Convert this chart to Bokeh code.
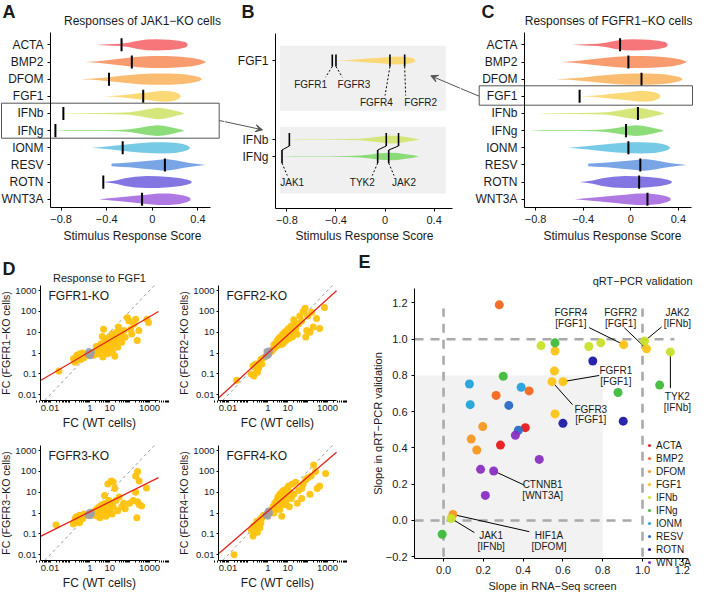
import math
from bokeh.plotting import figure
from bokeh.layouts import row, column
from bokeh.models import (Range1d, FixedTicker, Label, Arrow, VeeHead, Legend, LegendItem,
                          PrintfTickFormatter, CustomJSTickFormatter)
from bokeh.embed import file_html
from bokeh.resources import INLINE

FONT = "Liberation Sans"
TXT = "#1a1a1a"

# ---------------- data: panels A-C ----------------
stimuli = ["ACTA", "BMP2", "DFOM", "FGF1", "IFNb", "IFNg", "IONM", "RESV", "ROTN", "WNT3A"]
violin_colors = ["#F5676A", "#F7915F", "#F9B560", "#FBD568", "#D0E46C",
                 "#80D86A", "#68C4E2", "#6A9BE3", "#7767DF", "#A56ADF"]

# violin profiles: score knots and half widths (in row units)
acta_score = [-0.49, -0.39, -0.28, -0.21, -0.14, -0.05, 0.03, 0.15, 0.23, 0.29, 0.305, 0.31]
acta_width = [0.0, 0.04, 0.06, 0.12, 0.22, 0.31, 0.33, 0.30, 0.24, 0.16, 0.08, 0.0]
bmp2_score = [-0.59, -0.48, -0.38, -0.25, -0.12, 0.0, 0.12, 0.25, 0.35, 0.42, 0.46, 0.47]
bmp2_width = [0.0, 0.05, 0.12, 0.22, 0.31, 0.35, 0.35, 0.30, 0.24, 0.14, 0.05, 0.0]
dfom_score = [-0.63, -0.52, -0.40, -0.27, -0.12, 0.0, 0.15, 0.28, 0.36, 0.41, 0.43, 0.435]
dfom_width = [0.0, 0.04, 0.10, 0.20, 0.29, 0.33, 0.33, 0.28, 0.20, 0.12, 0.04, 0.0]
fgf1_score = [-0.43, -0.33, -0.24, -0.14, -0.04, 0.04, 0.09, 0.15, 0.20, 0.23, 0.245, 0.25]
fgf1_width = [0.0, 0.03, 0.08, 0.16, 0.22, 0.29, 0.32, 0.30, 0.24, 0.16, 0.07, 0.0]
ifnb_score = [-0.78, -0.70, -0.45, -0.30, -0.20, -0.12, -0.04, 0.04, 0.10, 0.17, 0.23, 0.275, 0.28]
ifnb_width = [0.0, 0.02, 0.025, 0.04, 0.07, 0.15, 0.25, 0.33, 0.30, 0.20, 0.11, 0.03, 0.0]
ifng_score = [-0.85, -0.75, -0.45, -0.30, -0.20, -0.12, -0.04, 0.04, 0.10, 0.17, 0.23, 0.27, 0.275]
ifng_width = [0.0, 0.02, 0.025, 0.04, 0.08, 0.16, 0.26, 0.31, 0.28, 0.19, 0.10, 0.03, 0.0]
ionm_score = [-0.53, -0.45, -0.36, -0.25, -0.12, 0.0, 0.10, 0.20, 0.27, 0.31, 0.325, 0.33]
ionm_width = [0.0, 0.04, 0.10, 0.18, 0.27, 0.32, 0.33, 0.30, 0.22, 0.13, 0.05, 0.0]
resv_score = [-0.36, -0.355, -0.30, -0.20, -0.10, 0.0, 0.08, 0.12, 0.20, 0.28, 0.34, 0.40, 0.47]
resv_width = [0.0, 0.08, 0.10, 0.14, 0.20, 0.26, 0.32, 0.34, 0.27, 0.17, 0.10, 0.05, 0.0]
rotn_score = [-0.43, -0.38, -0.32, -0.24, -0.15, -0.05, 0.05, 0.15, 0.25, 0.31, 0.34, 0.345]
rotn_width = [0.0, 0.04, 0.10, 0.22, 0.31, 0.35, 0.34, 0.30, 0.22, 0.14, 0.06, 0.0]
wnt3a_score = [-0.47, -0.38, -0.28, -0.15, -0.05, 0.05, 0.15, 0.24, 0.30, 0.33, 0.335]
wnt3a_width = [0.0, 0.06, 0.12, 0.20, 0.27, 0.33, 0.33, 0.27, 0.18, 0.09, 0.0]

violin_profiles = {
    "ACTA": (acta_score, acta_width), "BMP2": (bmp2_score, bmp2_width),
    "DFOM": (dfom_score, dfom_width), "FGF1": (fgf1_score, fgf1_width),
    "IFNb": (ifnb_score, ifnb_width), "IFNg": (ifng_score, ifng_width),
    "IONM": (ionm_score, ionm_width), "RESV": (resv_score, resv_width),
    "ROTN": (rotn_score, rotn_width), "WNT3A": (wnt3a_score, wnt3a_width),
}

jak1_ko_scores = [-0.27, -0.18, -0.38, -0.08, -0.78, -0.85, -0.26, 0.11, -0.43, -0.09]
fgfr1_ko_scores = [-0.09, -0.02, 0.09, -0.43, 0.06, -0.04, -0.02, 0.08, 0.07, 0.14]

# panel B
b_fgf1_kos = ["FGFR1", "FGFR3", "FGFR4", "FGFR2"]
b_fgf1_scores = [-0.43, -0.40, 0.04, 0.16]
b_ifn_kos = ["JAK1", "TYK2", "JAK2"]
b_ifnb_scores = [-0.78, 0.01, 0.11]
b_ifng_scores = [-0.84, -0.06, 0.03]

# ---------------- data: panel D ----------------
d_names = ["FGFR1-KO", "FGFR2-KO", "FGFR3-KO", "FGFR4-KO"]
d_ylabels = ["FC (FGFR1\u2212KO cells)", "FC (FGFR2\u2212KO cells)",
             "FC (FGFR3\u2212KO cells)", "FC (FGFR4\u2212KO cells)"]
d_slopes = [0.557, 0.865, 0.475, 0.82]
d_intercepts = [0.07, 0.0, 0.064, 0.09]

d1_wt = [0.028, 0.15, 0.18, 0.22, 0.27, 0.32, 0.39, 0.44, 0.5, 0.22, 0.3, 0.35, 0.42, 1.6, 2.0, 2.1,
         2.6, 3.1, 3.7, 4.5, 4.9, 5.5, 6.1, 6.6, 8, 8.9, 9.6, 11.7, 13, 14, 17, 18, 20, 21, 25, 27,
         31, 36, 40, 52, 59, 77, 93, 112, 126, 162, 200, 240, 290, 740, 890, 9.5, 8, 4.2, 2.4,
         3.3, 5, 6, 7, 1.8, 12, 15, 2.8]
d1_ko = [0.14, 0.54, 0.37, 0.78, 0.54, 0.93, 0.65, 1.0, 0.6, 0.45, 0.7, 0.5, 0.8, 0.78, 1.34, 2.1,
         0.93, 1.6, 2.8, 0.65, 14, 1.34, 4, 2.3, 0.93, 5.5, 1.6, 3.3, 8.2, 1.1, 5.5, 0.7, 2.7, 9.8,
         1.9, 18, 5, 8.7, 3.3, 12, 5.7, 50, 35, 14, 8.2, 24, 42, 4, 12, 42, 29, 2.5, 2.2, 6.2, 1.8,
         2.2, 1.8, 1.2, 3, 1.1, 2, 4, 1.3]
d2_wt = [0.027, 0.15, 0.18, 0.2, 0.25, 0.28, 0.3, 0.35, 0.4, 0.45, 0.5, 0.3, 0.6, 1.5, 1.8, 2, 2.2,
         2.5, 2.8, 3, 3.3, 3.5, 4, 4.2, 4.5, 5, 5.5, 6, 6.5, 7, 7.5, 8, 9, 10, 11, 12, 13, 15, 17,
         20, 22, 25, 30, 40, 50, 60, 75, 90, 130, 160, 190, 280, 400, 700, 80, 100, 20, 35]
d2_ko = [0.05, 0.1, 0.25, 0.08, 0.3, 0.15, 0.12, 0.2, 0.35, 0.5, 0.3, 0.22, 0.6, 1.2, 1.5, 2.5, 1.8,
         3, 2.2, 4, 2.8, 5, 3.5, 6, 2.5, 4.5, 8, 3, 6, 10, 5, 4, 12, 7, 15, 5, 9, 20, 6, 10, 28, 15,
         8, 60, 35, 100, 140, 12, 10, 90, 18, 45, 15, 155, 6, 60, 40, 25]
d3_wt = [0.02, 0.15, 0.18, 0.22, 0.25, 0.3, 0.35, 0.4, 0.45, 0.5, 0.3, 0.2, 1.5, 1.8, 2, 2.3, 2.5,
         2.8, 3, 3.2, 3.5, 4, 4.2, 4.5, 5, 5.5, 5.8, 6, 6.5, 7, 7.5, 8, 8.5, 9, 10, 11, 12, 13, 15,
         15, 18, 20, 25, 30, 40, 50, 100, 150, 200, 250, 300, 200, 250, 300, 230, 700, 400, 60]
d3_ko = [0.27, 0.3, 0.5, 0.4, 0.6, 0.8, 0.5, 0.7, 0.55, 0.9, 0.35, 0.65, 0.8, 1.3, 1, 1.6, 0.7,
         1.2, 2, 0.6, 1.5, 1, 2.5, 0.8, 1.3, 7, 1.8, 3, 0.7, 1.5, 2.2, 25, 1, 4, 1.4, 3, 35, 0.9,
         2, 30, 15, 4, 1.3, 6, 2, 3, 3, 4, 60, 100, 35, 10, 3.5, 2.6, 0.6, 16, 2.2, 1.6]
d4_wt = [0.02, 0.15, 0.18, 0.2, 0.25, 0.28, 0.3, 0.35, 0.4, 0.45, 0.5, 0.4, 0.6, 1.5, 1.8, 2, 2.2,
         2.5, 2.8, 3, 3.2, 3.5, 4, 4, 4.5, 5, 5, 5.5, 6, 6, 6.5, 7, 7.5, 8, 9, 10, 11, 12, 13, 15,
         17, 20, 25, 30, 35, 50, 60, 80, 100, 150, 200, 250, 300, 400, 130, 800, 50]
d4_ko = [0.01, 0.15, 0.08, 0.25, 0.2, 0.4, 0.12, 0.3, 0.5, 0.35, 0.6, 0.2, 0.8, 1.3, 2, 1, 3, 1.8,
         4, 2.5, 6, 3, 8, 1.5, 5, 10, 0.7, 3.5, 12, 6, 2.5, 8, 4, 3, 15, 6, 20, 2, 10, 5, 25, 8, 30,
         3, 12, 15, 25, 40, 50, 60, 200, 100, 15, 20, 8, 80, 5]
d_gray_wt = [[0.8, 1.0, 1.1, 0.9, 1.2, 1.0], [0.8, 1.0, 0.9, 1.1, 1.2, 1.0],
             [0.8, 1.0, 0.9, 1.1, 1.2, 1.0], [0.8, 1.0, 0.9, 1.1, 1.2, 1.0]]
d_gray_ko = [[0.9, 1.0, 0.8, 1.2, 1.1, 0.75], [0.7, 1.0, 1.2, 0.9, 1.3, 0.8],
             [0.8, 0.9, 1.0, 1.1, 0.95, 0.75], [0.8, 1.1, 0.9, 1.3, 1.0, 0.7]]

# ---------------- data: panel E ----------------
e_stimulus = (["ACTA"] * 2 + ["BMP2"] * 3 + ["DFOM"] * 4 + ["FGF1"] * 7 + ["IFNb"] * 6 +
              ["IFNg"] * 5 + ["IONM"] * 3 + ["RESV"] * 2 + ["ROTN"] * 3 + ["WNT3A"] * 5)
e_rna = [0.411, 0.286, 0.28, 0.43, 0.264, 0.197, 0.139, 0.167, 0.047,
         0.56, 0.905, 1.02, 0.557, 0.545, 0.60, 0.56,
         0.49, 0.73, 0.79, 1.01, 1.14, 0.038,
         0.56, 0.30, 1.086, 0.877, -0.007,
         0.13, 0.39, 0.134, 0.328, 0.376, 0.75, 0.60, 0.903,
         0.361, 0.481, 0.186, 0.252, 0.21]
e_qpcr = [0.512, 0.416, 1.19, 0.715, 0.69, 0.518, 0.449, 0.389, 0.033,
          0.935, 0.97, 0.947, 0.825, 0.766, 0.766, 0.588,
          0.965, 0.96, 0.98, 0.99, 0.93, 0.011,
          0.98, 0.796, 0.747, 0.706, -0.076,
          0.753, 0.735, 0.639, 0.635, 0.498, 0.88, 0.536, 0.548,
          0.47, 0.337, 0.282, 0.273, 0.138]
e_gene = ["", "", "", "", "", "", "", "", "HIF1A",
          "", "FGFR4", "FGFR2", "", "FGFR3", "FGFR1", "",
          "", "", "", "JAK2", "TYK2", "JAK1",
          "", "", "", "", "",
          "", "", "", "", "", "", "", "",
          "", "", "", "CTNNB1", ""]
e_colors = {"ACTA": "#E8191C", "BMP2": "#F4661E", "DFOM": "#F7961E", "FGF1": "#FDC315",
            "IFNb": "#C9E12B", "IFNg": "#3DBB3A", "IONM": "#22A3DB", "RESV": "#2A6CC6",
            "ROTN": "#1B1AA8", "WNT3A": "#8A2EC4"}
# label texts with their placement (label x, first-line y, connector start x, y)
e_labels = [("FGFR4", "[FGF1]", 0.64, 1.146, 0.732, 1.064),
            ("FGFR2", "[FGF1]", 0.89, 1.146, 0.908, 1.064),
            ("JAK2", "[IFNb]", 1.175, 1.146, 1.096, 1.068),
            ("FGFR1", "[FGF1]", 0.866, 0.829, 0.782, 0.80),
            ("FGFR3", "[FGF1]", 0.74, 0.615, 0.648, 0.639),
            ("TYK2", "[IFNb]", 1.175, 0.684, 1.14, 0.73),
            ("CTNNB1", "[WNT3A]", 0.498, 0.20, 0.406, 0.195),
            ("JAK1", "[IFNb]", 0.239, -0.085, 0.155, -0.067),
            ("HIF1A", "[DFOM]", 0.53, -0.085, 0.431, -0.062)]
e_shade_limit = 0.8
e_ref_values = [0.0, 1.0]


# ---------------- geometry helpers ----------------
class Panel:
    """Canvas box (page px) + inner plotting box (page px) with its data ranges."""
    def __init__(self, x0, y0, w, h, inner, xr, yr, xlog=False, ylog=False):
        self.x0, self.y0, self.w, self.h = x0, y0, w, h
        self.ix0, self.ix1, self.iy0, self.iy1 = inner
        self.xr, self.yr, self.xlog, self.ylog = xr, yr, xlog, ylog

    def to_x(self, px):
        lo, hi = self.xr
        if self.xlog:
            lo, hi = math.log10(lo), math.log10(hi)
        v = lo + (px - self.ix0) * (hi - lo) / (self.ix1 - self.ix0)
        return 10 ** v if self.xlog else v

    def to_y(self, py):
        lo, hi = self.yr
        if self.ylog:
            lo, hi = math.log10(lo), math.log10(hi)
        v = lo + (self.iy1 - py) * (hi - lo) / (self.iy1 - self.iy0)
        return 10 ** v if self.ylog else v


GA = Panel(8, 8, 224, 250, (58, 218, 40, 215), (-0.893, 0.51), (0.52, 10.72))
GB = Panel(232, 8, 236, 250, (283, 460, 41, 216), (-0.893, 0.55), (0.0, 175.0))
GC = Panel(468, 8, 233, 250, (532, 699, 40, 215), (-0.893, 0.51), (0.52, 10.72))
DXR = (10 ** -2.48, 10 ** 3.45)
DYR = (10 ** -2.27, 10 ** 3.24)
GD = [Panel(8, 258, 178, 180, (48, 166, 293, 408), DXR, DYR, True, True),
      Panel(186, 258, 178, 180, (226, 344, 293, 408), DXR, DYR, True, True),
      Panel(8, 438, 178, 162, (48, 166, 453, 568), DXR, DYR, True, True),
      Panel(186, 438, 178, 162, (226, 344, 453, 568), DXR, DYR, True, True)]
GE = Panel(364, 258, 337, 342, (422, 695, 296, 566), (-0.146, 1.226), (-0.21, 1.28))


def make_fig(g, tick_size="11px", tick_out=3, standoff=4):
    p = figure(width=g.w, height=g.h,
               x_range=Range1d(g.to_x(g.x0), g.to_x(g.x0 + g.w)),
               y_range=Range1d(g.to_y(g.y0 + g.h), g.to_y(g.y0)),
               x_axis_type="log" if g.xlog else "linear",
               y_axis_type="log" if g.ylog else "linear",
               output_backend="svg", toolbar_location=None,
               min_border=0, min_border_left=0, min_border_right=0,
               min_border_top=0, min_border_bottom=0)
    p.xgrid.visible = False
    p.ygrid.visible = False
    p.outline_line_color = None
    p.background_fill_color = "white"
    p.border_fill_color = "white"
    p.xaxis.fixed_location = g.yr[0]
    p.xaxis.bounds = g.xr
    p.yaxis.fixed_location = g.xr[0]
    p.yaxis.bounds = g.yr
    for ax in p.axis:
        ax.axis_line_color = "black"
        ax.axis_line_width = 1
        ax.major_tick_line_color = "black"
        ax.major_tick_out = tick_out
        ax.major_tick_in = 0
        ax.minor_tick_line_color = None
        ax.major_label_text_font = FONT
        ax.major_label_text_font_size = tick_size
        ax.major_label_text_color = TXT
        ax.major_label_standoff = standoff
    return p


def put_text(p, g, px, py, text, size="12px", align="left", baseline="middle", bold=False,
             angle=0.0):
    p.add_layout(Label(x=g.to_x(px), y=g.to_y(py), text=text, text_font=FONT,
                       text_font_size=size, text_align=align, text_baseline=baseline,
                       text_color=TXT, text_font_style="bold" if bold else "normal",
                       angle=angle))


def add_line(p, g, p0, p1, head=False):
    kw = dict(x_start=g.to_x(p0[0]), y_start=g.to_y(p0[1]),
              x_end=g.to_x(p1[0]), y_end=g.to_y(p1[1]),
              line_color="#555555", line_width=1)
    kw["end"] = VeeHead(size=7, line_color="#555555", fill_color="#555555",
                        line_width=1) if head else None
    p.add_layout(Arrow(**kw))


def add_box(p, g, left, right, top, bottom):
    xs = [g.to_x(left), g.to_x(right), g.to_x(right), g.to_x(left), g.to_x(left)]
    ys = [g.to_y(top), g.to_y(top), g.to_y(bottom), g.to_y(bottom), g.to_y(top)]
    p.line(xs, ys, line_color="#555555", line_width=1)


score_fmt = CustomJSTickFormatter(code="""
return tick == 0 ? '0' : (tick < 0 ? '\u2212' + Math.abs(tick).toFixed(1) : tick.toFixed(1));
""")


def draw_violins(p, names, ys, scale):
    xs_l, ys_l, cols = [], [], []
    for name, yc in zip(names, ys):
        kx, kw = violin_profiles[name]
        xs_l.append(list(kx) + list(reversed(kx)))
        ys_l.append([yc + w * scale for w in kw] + [yc - w * scale for w in reversed(kw)])
        cols.append(violin_colors[stimuli.index(name)])
    p.patches(xs_l, ys_l, fill_color=cols, fill_alpha=0.9, line_color=None)


def stim_panel(g, scores):
    p = make_fig(g)
    rows_y = [10 - i for i in range(len(stimuli))]
    draw_violins(p, stimuli, rows_y, 1.0)
    p.segment(x0=scores, y0=[y - 0.38 for y in rows_y], x1=scores, y1=[y + 0.38 for y in rows_y],
              line_color="black", line_width=2)
    p.xaxis.ticker = FixedTicker(ticks=[-0.8, -0.4, 0, 0.4])
    p.xaxis.formatter = score_fmt
    p.yaxis.ticker = FixedTicker(ticks=rows_y)
    p.yaxis.major_label_overrides = {y: s for y, s in zip(rows_y, stimuli)}
    p.yaxis.major_label_text_font_size = "12px"
    return p


LETTER = "18px"

# ---------------- panel A ----------------
pa = stim_panel(GA, jak1_ko_scores)
put_text(pa, GA, 10, 19, "A", size=LETTER, bold=True)
put_text(pa, GA, 150, 28, "Responses of JAK1\u2212KO cells", align="center")
put_text(pa, GA, 140, 243, "Stimulus Response Score", align="center")
add_box(pa, GA, 9, 226.7, 110.7, 145.7)
add_line(pa, GA, (226.7, 128.0), (232.0, 129.1))

# ---------------- panel C ----------------
pc = stim_panel(GC, fgfr1_ko_scores)
put_text(pc, GC, 489, 19, "C", size=LETTER, bold=True)
put_text(pc, GC, 700, 28, "Responses of FGFR1\u2212KO cells", align="right")
put_text(pc, GC, 620, 243, "Stimulus Response Score", align="center")
add_box(pc, GC, 486.7, 700.0, 93.3, 112.7)
add_line(pc, GC, (486.7, 103.7), (468.0, 95.9))

# ---------------- panel B ----------------
pb = make_fig(GB)
b_rows = {"FGF1": 148.0, "IFNb": 69.0, "IFNg": 52.0}
row_px = 17.0
pb.quad(left=[GB.to_x(287.3)] * 2, right=[GB.to_x(453.3)] * 2,
        top=[GB.to_y(53.3), GB.to_y(134.3)], bottom=[GB.to_y(118.3), GB.to_y(201.0)],
        fill_color="#F0F0F0", line_color=None)
draw_violins(pb, ["FGF1", "IFNb", "IFNg"], [b_rows["FGF1"], b_rows["IFNb"], b_rows["IFNg"]],
             row_px * 0.72)
fh = 6.0
pb.segment(x0=b_fgf1_scores, y0=[b_rows["FGF1"] - fh] * 4, x1=b_fgf1_scores,
           y1=[b_rows["FGF1"] + fh] * 4, line_color="black", line_width=1.6)
b_fgf1_lab_x = [-0.607, -0.253, -0.071, 0.291]
b_fgf1_lab_y = [124.3, 124.3, 106.0, 106.0]
b_fgf1_conn_x = [-0.485, -0.348, 0.0, 0.168]
pb.segment(x0=b_fgf1_scores, y0=[b_rows["FGF1"] - fh] * 4, x1=b_fgf1_conn_x,
           y1=[y + 7 for y in b_fgf1_lab_y], line_color="black", line_width=1, line_dash="2 2")
for name, lx, ly in zip(b_fgf1_kos, b_fgf1_lab_x, b_fgf1_lab_y):
    pb.add_layout(Label(x=lx, y=ly, text=name, text_font=FONT, text_font_size="10px",
                        text_align="center", text_baseline="middle", text_color=TXT))
ih = 6.5
pb.segment(x0=b_ifnb_scores, y0=[b_rows["IFNb"] - ih] * 3, x1=b_ifnb_scores,
           y1=[b_rows["IFNb"] + ih] * 3, line_color="black", line_width=1.6)
pb.segment(x0=b_ifng_scores, y0=[b_rows["IFNg"] - ih] * 3, x1=b_ifng_scores,
           y1=[b_rows["IFNg"] + ih] * 3, line_color="black", line_width=1.6)
pb.segment(x0=b_ifnb_scores, y0=[b_rows["IFNb"] - ih] * 3, x1=b_ifng_scores,
           y1=[b_rows["IFNg"] + ih] * 3, line_color="black", line_width=1)
b_ifn_lab_x = [-0.757, -0.185, 0.155]
b_ifn_conn_x = [-0.797, -0.104, 0.073]
b_ifn_lab_y = 26.0
pb.segment(x0=b_ifng_scores, y0=[b_rows["IFNg"] - ih] * 3, x1=b_ifn_conn_x,
           y1=[b_ifn_lab_y + 7] * 3, line_color="black", line_width=1, line_dash="2 2")
for name, lx in zip(b_ifn_kos, b_ifn_lab_x):
    pb.add_layout(Label(x=lx, y=b_ifn_lab_y, text=name, text_font=FONT, text_font_size="10px",
                        text_align="center", text_baseline="middle", text_color=TXT))
pb.xaxis.ticker = FixedTicker(ticks=[-0.8, -0.4, 0, 0.4])
pb.xaxis.formatter = score_fmt
pb.yaxis.ticker = FixedTicker(ticks=[52, 69, 148])
pb.yaxis.major_label_overrides = {148: "FGF1", 69: "IFNb", 52: "IFNg"}
pb.yaxis.major_label_text_font_size = "12px"
put_text(pb, GB, 249, 19, "B", size=LETTER, bold=True)
put_text(pb, GB, 372, 243, "Stimulus Response Score", align="center")
add_line(pb, GB, (232.0, 129.1), (270.0, 137.3), head=True)
add_line(pb, GB, (468.0, 95.9), (438.3, 83.3), head=True)

# ---------------- panel D ----------------
d_wt = [d1_wt, d2_wt, d3_wt, d4_wt]
d_ko = [d1_ko, d2_ko, d3_ko, d4_ko]
d_figs = []
lx_lo, lx_hi = math.log10(DXR[0]), math.log10(DXR[1])
ly_lo, ly_hi = math.log10(DYR[0]), math.log10(DYR[1])
for k in range(4):
    g = GD[k]
    p = make_fig(g, tick_size="9.5px", tick_out=2, standoff=2)
    # identity line clipped to the panel
    d0, d1 = max(lx_lo, ly_lo), min(lx_hi, ly_hi)
    p.line([10 ** d0, 10 ** d1], [10 ** d0, 10 ** d1], line_color="#9A9A9A", line_width=1,
           line_dash="3 3")
    p.scatter(d_wt[k], d_ko[k], size=7, fill_color="#FFC20E", line_color=None, fill_alpha=0.95)
    p.scatter(d_gray_wt[k], d_gray_ko[k], size=7, fill_color="#A0A0A0", line_color=None,
              fill_alpha=0.9)
    m, b = d_slopes[k], d_intercepts[k]
    r0 = max(lx_lo, (ly_lo - b) / m)
    r1 = min(lx_hi, (ly_hi - b) / m)
    p.line([10 ** r0, 10 ** r1], [10 ** (b + m * r0), 10 ** (b + m * r1)],
           line_color="#E2231A", line_width=1.3)
    p.xaxis.ticker = FixedTicker(ticks=[0.01, 1, 10, 1000],
                                 minor_ticks=[mm * 10 ** e for e in range(-3, 4) for mm in range(2, 10)]
                                 + [0.1, 100])
    p.xaxis.minor_tick_line_color = "black"
    p.xaxis.minor_tick_out = 2
    p.xaxis.minor_tick_in = 0
    p.yaxis.ticker = FixedTicker(ticks=[0.01, 0.1, 1, 10, 100, 1000])
    p.xaxis.formatter = PrintfTickFormatter(format="%g")
    p.yaxis.formatter = PrintfTickFormatter(format="%g")
    put_text(p, g, g.ix0 + 8, g.iy0 + 10, d_names[k], size="12px")
    put_text(p, g, (g.ix0 + g.ix1) / 2, g.iy1 + 22, "FC (WT cells)", size="12px", align="center")
    put_text(p, g, g.x0 + 5, (g.iy0 + g.iy1) / 2, d_ylabels[k], size="10.5px", align="center",
             angle=math.pi / 2)
    d_figs.append(p)
put_text(d_figs[0], GD[0], 10, 276, "D", size=LETTER, bold=True)
put_text(d_figs[0], GD[0], 107, 285, "Response to FGF1", size="11px", align="center")

# ---------------- panel E ----------------
pe = make_fig(GE, tick_size="11px", tick_out=3, standoff=4)
pe.quad(left=[GE.xr[0]], right=[e_shade_limit], bottom=[GE.yr[0]], top=[e_shade_limit],
        fill_color="#F2F2F2", line_color=None)
pe.segment(x0=e_ref_values, y0=[-0.2] * 2, x1=e_ref_values, y1=[1.17] * 2,
           line_color="#A8A8A8", line_width=2.5, line_dash="9 7")
pe.segment(x0=[GE.xr[0]] * 2, y0=e_ref_values, x1=[0.96, 1.16], y1=e_ref_values,
           line_color="#A8A8A8", line_width=2.5, line_dash="9 7")
cx0, cy0, cx1, cy1 = [], [], [], []
for g1, g2, lx, ly, sx, sy in e_labels:
    i = e_gene.index(g1)
    cx0.append(sx); cy0.append(sy); cx1.append(e_rna[i]); cy1.append(e_qpcr[i])
pe.segment(x0=cx0, y0=cy0, x1=cx1, y1=cy1, line_color="black", line_width=1)
legend_items = []
for s in stimuli:
    xs = [x for x, c in zip(e_rna, e_stimulus) if c == s]
    ys = [y for y, c in zip(e_qpcr, e_stimulus) if c == s]
    r = pe.scatter(xs, ys, size=9, fill_color=e_colors[s], line_color=None, fill_alpha=0.95)
    legend_items.append(LegendItem(label=s, renderers=[r]))
for g1, g2, lx, ly, sx, sy in e_labels:
    for txt, yy in ((g1, ly), (g2, ly - 0.06)):
        pe.add_layout(Label(x=lx, y=yy, text=txt, text_font=FONT, text_font_size="10px",
                            text_align="center", text_baseline="middle", text_color=TXT))
leg = Legend(items=legend_items, location=(289, 24), orientation="vertical",
             label_text_font=FONT, label_text_font_size="10px", label_text_color=TXT,
             label_height=12, glyph_height=12, glyph_width=8, spacing=1,
             label_standoff=3, padding=0, margin=0,
             background_fill_alpha=0, border_line_color=None)
pe.add_layout(leg)
pe.xaxis.ticker = FixedTicker(ticks=[0.0, 0.2, 0.4, 0.6, 0.8, 1.0, 1.2])
pe.yaxis.ticker = FixedTicker(ticks=[-0.2, 0.0, 0.2, 0.4, 0.6, 0.8, 1.0, 1.2])
e_fmt = CustomJSTickFormatter(code="""
return (tick < -1e-9 ? '\u2212' : '') + Math.abs(tick).toFixed(1);
""")
pe.xaxis.formatter = e_fmt
pe.yaxis.formatter = e_fmt
put_text(pe, GE, 560, 593, "Slope in RNA\u2212Seq screen", size="11px", align="center")
put_text(pe, GE, 385, (GE.iy0 + GE.iy1) / 2, "Slope in qRT\u2212PCR validation", size="11px",
         align="center", angle=math.pi / 2)
put_text(pe, GE, 366, 269, "E", size=LETTER, bold=True)
put_text(pe, GE, 700, 288, "qRT\u2212PCR validation", size="11px", align="right")

# ---------------- layout ----------------
top = row(pa, pb, pc, spacing=0)
dgrid = column(row(d_figs[0], d_figs[1], spacing=0), row(d_figs[2], d_figs[3], spacing=0),
               spacing=0)
bottom = row(dgrid, pe, spacing=0)
layout = column(top, bottom, spacing=0)

open("out.html", "w").write(file_html(layout, INLINE))
